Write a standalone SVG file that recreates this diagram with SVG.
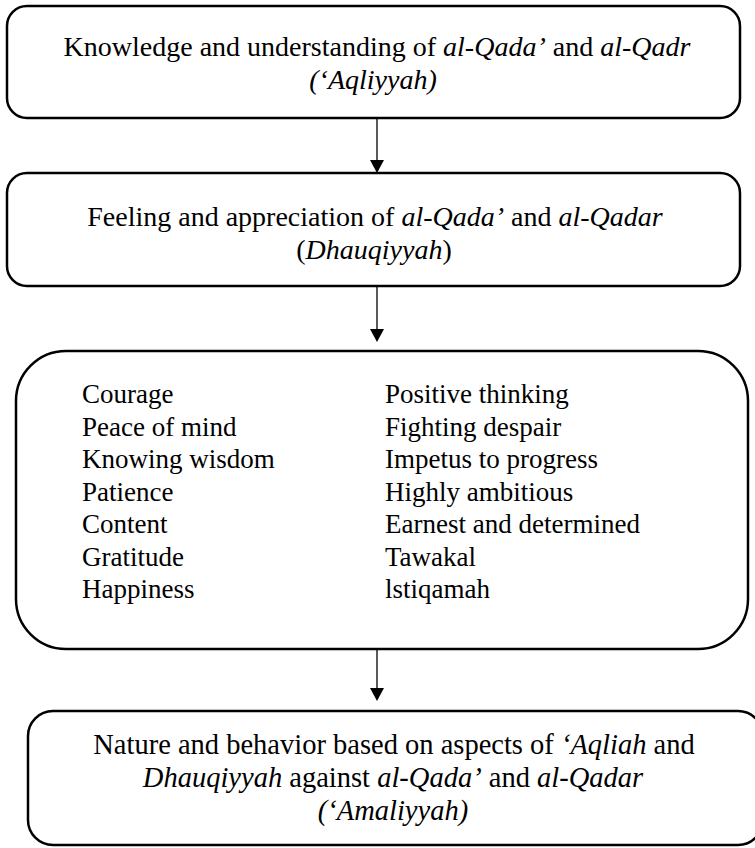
<svg xmlns="http://www.w3.org/2000/svg" width="755" height="848" viewBox="0 0 755 848">
<style>
.box{fill:#fff;stroke:#000;stroke-width:2.5}
.t{font-family:"Liberation Serif","Times New Roman",serif;font-size:28px;fill:#000}
.s{font-size:27px}
.b{font-size:28.5px}
.c{text-anchor:middle}
.i{font-style:italic}
.conn line{stroke:#000;stroke-width:1.3}
.conn polygon{fill:#000}
</style>
<rect width="755" height="848" fill="#fff"/>
<g id="n1">
<rect class="box" x="7" y="6" width="733" height="112" rx="20"/>
<text class="t c" x="377" y="56">Knowledge and understanding of <tspan class="i">al-Qada’</tspan> and <tspan class="i">al-Qadr</tspan></text>
<text class="t c i" x="373" y="89">(‘Aqliyyah)</text>
</g>
<g id="n2">
<rect class="box" x="7" y="173" width="733" height="113" rx="20"/>
<text class="t c" x="375" y="226">Feeling and appreciation of <tspan class="i">al-Qada’</tspan> and <tspan class="i">al-Qadar</tspan></text>
<text class="t c" x="374" y="259">(<tspan class="i">Dhauqiyyah</tspan>)</text>
</g>
<g id="n3">
<rect class="box" x="16" y="351" width="732" height="298" rx="50"/>
<text class="t s" x="82" y="403">Courage</text>
<text class="t s" x="82" y="435.5">Peace of mind</text>
<text class="t s" x="82" y="468">Knowing wisdom</text>
<text class="t s" x="82" y="500.5">Patience</text>
<text class="t s" x="82" y="533">Content</text>
<text class="t s" x="82" y="565.5">Gratitude</text>
<text class="t s" x="82" y="598">Happiness</text>
<text class="t s" x="385" y="403">Positive thinking</text>
<text class="t s" x="385" y="435.5">Fighting despair</text>
<text class="t s" x="385" y="468">Impetus to progress</text>
<text class="t s" x="385" y="500.5">Highly ambitious</text>
<text class="t s" x="385" y="533">Earnest and determined</text>
<text class="t s" x="385" y="565.5">Tawakal</text>
<text class="t s" x="385" y="598">lstiqamah</text>
</g>
<g id="n4">
<rect class="box" x="28" y="711" width="735" height="134" rx="25"/>
<text class="t b c" x="394" y="754">Nature and behavior based on aspects of <tspan class="i">‘Aqliah</tspan> and</text>
<text class="t b c" x="393" y="787"><tspan class="i">Dhauqiyyah</tspan> against <tspan class="i">al-Qada’</tspan> and <tspan class="i">al-Qadar</tspan></text>
<text class="t b c i" x="393" y="820">(‘Amaliyyah)</text>
</g>
<g id="connectors" class="conn">
<line x1="377" y1="119" x2="377" y2="161"/>
<polygon points="370,160 384,160 377,173"/>
<line x1="377" y1="287" x2="377" y2="330"/>
<polygon points="370,329 384,329 377,342"/>
<line x1="377" y1="650" x2="377" y2="689"/>
<polygon points="370,688 384,688 377,701"/>
</g>
</svg>
